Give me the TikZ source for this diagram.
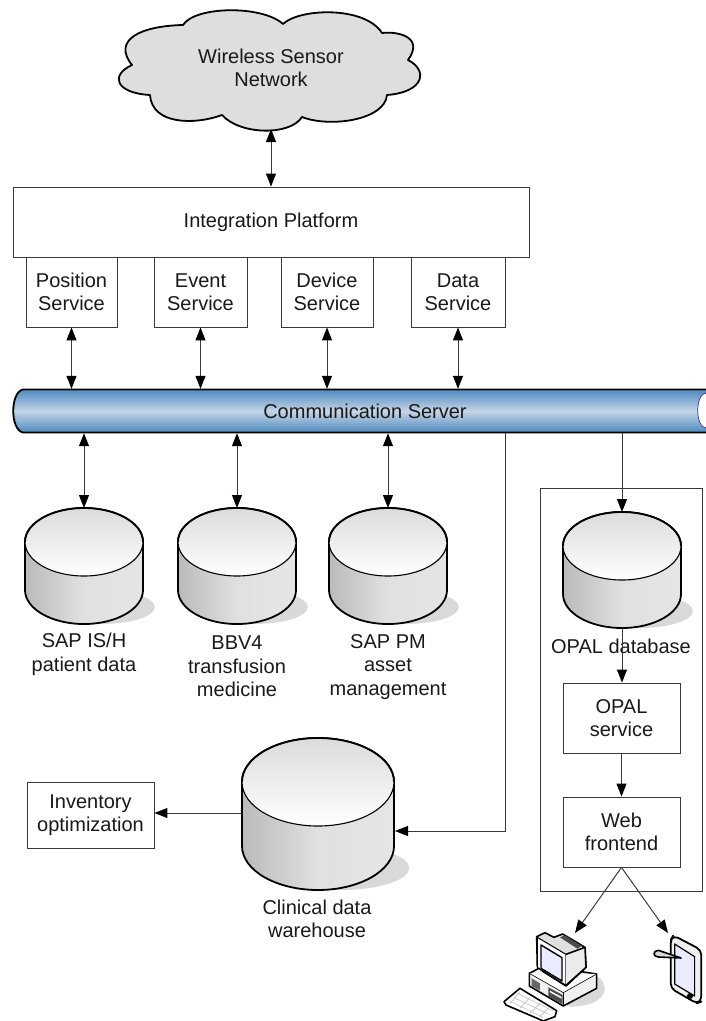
\documentclass[tikz,border=0pt]{standalone}
\usepackage{fontspec}
\setmainfont{Liberation Sans}
\usetikzlibrary{arrows.meta,shadings}
\definecolor{linec}{HTML}{3A3A3A}
\definecolor{pipeA}{HTML}{5A93C4}
\definecolor{pipeB}{HTML}{C6D4E6}
\pgfdeclareverticalshading{pipeshade}{100bp}{color(0bp)=(pipeA);color(28bp)=(pipeA);color(50bp)=(pipeB);color(72bp)=(pipeA);color(100bp)=(pipeA)}
\tikzset{
  box/.style={draw=linec,line width=0.9pt,fill=white,align=center,inner sep=0pt,font=\fontsize{20}{23.5}\selectfont,text=black!90},
  lbl/.style={align=center,inner sep=0pt,font=\fontsize{20}{23.5}\selectfont,text=black!90},
  conn/.style={draw=linec,line width=1pt,-{Triangle[length=13pt,width=10pt,color=black]}},
  biconn/.style={draw=linec,line width=1pt,{Triangle[length=13pt,width=10pt,color=black]}-{Triangle[length=13pt,width=10pt,color=black]}},
  plain/.style={draw=linec,line width=1pt},
  thick outline/.style={draw=black,line width=1.8pt,line join=round},
}
% name, cx, top, rx, ry, total height
\newcommand{\dbcyl}[6]{%
  \pgfmathsetmacro{\cyB}{#3+#6-#5}%
  \pgfmathsetmacro{\cyT}{#3+#5}%
  \fill[black!15] (#2+0.3*#4,#3+#6-0.5*#5) ellipse [x radius=#4*0.9,y radius=#5*0.5];
  \shade[left color=black!27,right color=black!10,middle color=black!12,thick outline]
    (#2-#4,\cyT) -- (#2-#4,\cyB) arc[start angle=180,end angle=0,x radius=#4,y radius=#5] -- (#2+#4,\cyT)
    arc[start angle=0,end angle=-180,x radius=#4,y radius=#5] -- cycle;
  \shade[top color=black!14,bottom color=white,draw=black,line width=1.1pt]
    (#2,\cyT) ellipse [x radius=#4,y radius=#5];
  \draw[thick outline] (#2-#4,\cyT) arc[start angle=180,end angle=360,x radius=#4,y radius=#5];
  \node[minimum width=2*#4*1pt,minimum height=#6*1pt,inner sep=0pt,anchor=north] (#1) at (#2,#3) {};
}
\begin{document}
\begin{tikzpicture}[x=1pt,y=-1pt]
\useasboundingbox (0,0) rectangle (706,1021);
% cloud
\node[inner sep=0pt,minimum width=300pt,minimum height=120pt] (cloud) at (271,71) {};
\draw[fill=black!13,line width=1.8pt,draw=black,line join=round]
 (283,24) .. controls (300,8) and (365,6) .. (382,33)
 .. controls (400,31) and (424,38) .. (408,60)
 .. controls (428,70) and (425,92) .. (387,95)
 .. controls (385,120) and (330,128) .. (302,117)
 .. controls (290,136) and (240,135) .. (222,115)
 .. controls (195,125) and (152,125) .. (150,95)
 .. controls (115,93) and (110,75) .. (132,65)
 .. controls (112,40) and (140,26) .. (183,25)
 .. controls (195,6) and (262,5) .. (283,24) -- cycle;
\node[lbl] at (271,68) {Wireless Sensor\\Network};
% top boxes
\node[box,minimum width=516pt,minimum height=70pt] (ip) at (271,222) {Integration Platform};
\node[box,minimum width=91pt,minimum height=70pt] (pos) at (71.5,292) {Position\\Service};
\node[box,minimum width=93pt,minimum height=70pt] (evt) at (200.5,292) {Event\\Service};
\node[box,minimum width=92pt,minimum height=70pt] (dev) at (327,292) {Device\\Service};
\node[box,minimum width=94pt,minimum height=70pt] (dat) at (458,292) {Data\\Service};
% pipe
\node[inner sep=0pt,minimum width=693pt,minimum height=44pt] (pipe) at (359.5,411) {};
\shade[shading=pipeshade,draw=black,line width=1.8pt]
  (706,389.5) -- (23,389.5) .. controls (10,392) and (10,430) .. (23,432.5) -- (706,432.5);
\fill[white,draw=black!30!blue!60!gray,line width=0.7pt] (706,393) .. controls (695,394) and (695,427) .. (706,428);
\node[lbl] at (365,411) {Communication Server};
% cylinders
\dbcyl{sap}{84}{508}{59}{34}{116}
\dbcyl{bbv}{237}{508}{59}{34}{116}
\dbcyl{pm}{388}{508}{59}{34}{116}
\dbcyl{dw}{318}{738}{76}{44}{152}
\node[lbl] at (84,654.5) {SAP IS/H\\patient data};
\node[lbl] at (237,666.5) {BBV4\\transfusion\\medicine};
\node[lbl] at (388,667) {SAP PM\\asset\\management};
\node[lbl] at (317,919) {Clinical data\\warehouse};
% OPAL frame
\node[draw=linec,line width=0.9pt,minimum width=162pt,minimum height=403pt,inner sep=0pt] (frame) at (621,689.5) {};
\dbcyl{opal}{622}{512}{59}{34}{116}
\draw[plain] (622,628) -- (622,670);
\node[lbl] (opallbl) at (621,646) {OPAL database};
\node[box,minimum width=117pt,minimum height=70pt] (svc) at (621.5,718) {OPAL\\service};
\node[box,minimum width=117pt,minimum height=70pt] (web) at (621.5,832) {Web\\frontend};
\node[box,minimum width=127pt,minimum height=66pt] (inv) at (90.5,815) {Inventory\\optimization};
% connectors
\coordinate (cloudb) at (271,129);
\draw[biconn] (cloudb) -- (ip.north -| cloudb);
\foreach \a in {pos,evt,dev,dat} \draw[biconn] (\a.south) -- (\a.south |- pipe.north);
\draw[biconn] (pipe.south -| sap.north) -- (sap.north);
\draw[biconn] (pipe.south -| bbv.north) -- (bbv.north);
\draw[biconn] (pipe.south -| pm.north) -- (pm.north);
\draw[conn] (pipe.south -| opal.north) -- (opal.north);
\draw[conn] (opal.south) -- (svc.north -| opal.south);
\draw[conn] (svc.south) -- (web.north);
\coordinate (dwe) at (395,831);
\coordinate (bend) at (505,831);
\draw[conn] (pipe.south -| bend) -- (bend) -- (dwe);
\coordinate (dww) at (242,813);
\draw[conn] (dww) -- (inv.east |- dww);
\coordinate (pcT) at (575,933);
\coordinate (tabT) at (668,933);
\draw[conn] (web.south) -- (pcT);
\draw[conn] (web.south) -- (tabT);
% computer icon (coordinates traced at 3x)
\begin{scope}[shift={(480,860)},x=0.3333pt,y=-0.3333pt]
 \fill[black!15] (270,440) .. controls (340,440) and (385,410) .. (372,375) .. controls (365,350) and (345,345) .. (340,345) -- (250,430) -- cycle;
 \draw[fill=black!6,line width=1.6pt,line join=round] (148,340) -- (190,318) -- (350,342) -- (350,385) -- (250,438) -- (148,378) -- cycle;
 \draw[fill=white,line width=0.6pt] (148,340) -- (250,398) -- (350,342);
 \draw[line width=0.7pt] (250,398) -- (250,438);
 \fill[black!60] (155,355) -- (180,370) -- (180,392) -- (155,378) -- cycle;
 \fill[black!70] (205,382) -- (248,405) -- (248,432) -- (205,410) -- cycle;
 \fill[white] (210,392) -- (245,411) -- (245,416) -- (210,397) -- cycle;
 \draw[fill=black!12,line width=1.6pt,line join=round] (170,230) -- (195,218) -- (222,232) -- (248,222) -- (315,262) -- (318,322) -- (258,378) -- (190,335) -- (172,320) -- cycle;
 \fill[black!70] (240,232) -- (255,226) -- (305,258) -- (292,266) -- cycle;
 \draw[fill=white,line width=1pt,line join=round] (172,232) -- (258,283) -- (258,376) -- (172,322) -- cycle;
 \draw[fill=blue!8,line width=1.4pt,line join=round] (183,255) -- (246,293) -- (246,363) -- (183,325) -- cycle;
 \fill[black!8] (258,283) -- (315,262) -- (318,322) -- (258,376) -- cycle;
 \draw[line width=1.6pt,line join=round] (258,283) -- (315,262) -- (318,322) -- (258,376);
 \draw[fill=white,line width=1.6pt,line join=round] (72,425) -- (120,385) -- (230,452) -- (225,470) -- (190,483) -- (78,435) -- cycle;
 \draw[black!25,line width=0.6pt] (88,422) -- (190,473) (100,412) -- (205,462) (112,400) -- (218,452);
 \draw[black!25,line width=0.6pt] (120,395) -- (90,430) (150,412) -- (120,445) (180,430) -- (150,460) (205,445) -- (180,470);
\end{scope}
% tablet
\begin{scope}[shift={(480,860)},x=0.3333pt,y=-0.3333pt]
 \draw[fill=black!6,line width=1.8pt,line join=round,rounded corners=5pt] (572,240) -- (580,226) -- (664,270) -- (664,425) -- (650,430) -- (572,385) -- cycle;
 \draw[fill=blue!8,line width=1.2pt,line join=round] (584,252) -- (644,290) -- (644,408) -- (584,372) -- cycle;
 \fill[black] (630,408) circle (3pt);
 \draw[fill=black!15,line width=1.6pt,line join=round] (603,294) -- (535,271) .. controls (518,272) and (518,290) .. (535,291) -- cycle;
\end{scope}
\end{tikzpicture}
\end{document}
